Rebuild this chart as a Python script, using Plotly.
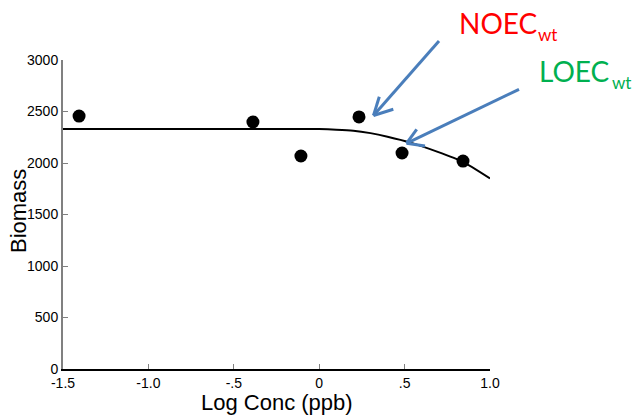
import plotly.graph_objects as go

# Observed data
log_conc = [-1.406, -0.388, -0.107, 0.233, 0.485, 0.842]
biomass = [2456, 2398, 2068, 2447, 2097, 2019]

# Fitted curve
curve_x = [-1.5, -0.5, -0.1, 0.0, 0.1, 0.2, 0.3, 0.4, 0.53, 0.69, 0.84, 1.0]
curve_y = [2330, 2330, 2330, 2329, 2324, 2314, 2290, 2255, 2200, 2110, 2013, 1850]

x_tickvals = [-1.5, -1.0, -0.5, 0.0, 0.5, 1.0]
x_ticktext = ["-1.5", "-1.0", "-.5", "0", ".5", "1.0"]
y_tickvals = [0, 500, 1000, 1500, 2000, 2500, 3000]

W, H = 636, 415
L, R, T, B = 63, 146, 60, 46
PW, PH = W - L - R, H - T - B


def px(x, y):
    return (x - L) / PW, (H - B - y) / PH


fig = go.Figure()
fig.add_trace(go.Scatter(x=curve_x, y=curve_y, mode="lines",
                         line=dict(color="black", width=2, shape="spline", smoothing=0.5),
                         hoverinfo="skip", cliponaxis=False))
fig.add_trace(go.Scatter(x=log_conc, y=biomass, mode="markers",
                         marker=dict(color="black", size=13),
                         cliponaxis=False))

shapes = []
blue = "#4A7EBB"


def seg(p1, p2):
    a = px(*p1)
    b = px(*p2)
    shapes.append(dict(type="line", xref="paper", yref="paper",
                       x0=a[0], y0=a[1], x1=b[0], y1=b[1],
                       line=dict(color=blue, width=3)))


# NOEC arrow
seg((439, 41), (373.5, 115.5))
seg((373.5, 115.5), (379.3, 96.7))
seg((373.5, 115.5), (393.3, 109.3))
# LOEC arrow
seg((519, 89.3), (406.5, 143.3))
seg((406.5, 143.3), (416.7, 129.3))
seg((406.5, 143.3), (425, 146))

annotations = []


def txt(s, x, y, size, color, font="Lato", xanchor="left", angle=0):
    xp, yp = px(x, y)
    annotations.append(dict(text=s, x=xp, y=yp, xref="paper", yref="paper",
                            xanchor=xanchor, yanchor="middle", showarrow=False,
                            textangle=angle,
                            font=dict(family=font, size=size, color=color)))


txt("NOEC", 457, 23, 28, "#FF0000")
txt("wt", 536, 35, 17, "#FF0000")
txt("LOEC", 537, 71, 28, "#00B050")
txt("wt", 610, 82, 17, "#00B050")
txt("Log Conc (ppb)", 277, 402, 22, "black", font="Liberation Sans", xanchor="center")
txt("Biomass", 18, 211, 22, "black", font="Liberation Sans", xanchor="center", angle=-90)

fig.update_layout(
    width=W, height=H,
    margin=dict(l=L, r=R, t=T, b=B),
    paper_bgcolor="white", plot_bgcolor="white",
    showlegend=False,
    shapes=shapes,
    annotations=annotations,
    font=dict(family="Liberation Sans", size=14, color="black"),
    xaxis=dict(range=[-1.5, 1.0], tickmode="array", tickvals=x_tickvals,
               ticktext=x_ticktext, ticks="inside", ticklen=5, tickcolor="#808080",
               showline=True, linecolor="black", linewidth=2, showgrid=False,
               zeroline=False, tickfont=dict(size=14)),
    yaxis=dict(range=[0, 3000], tickmode="array", tickvals=y_tickvals,
               ticks="inside", ticklen=5, tickcolor="#808080",
               showline=True, linecolor="#808080", linewidth=2, showgrid=False,
               zeroline=False, tickfont=dict(size=14)),
)

fig.write_html("out.html", config={"displayModeBar": False},
               post_script="document.body.style.margin='0';document.body.style.overflow='hidden';")
